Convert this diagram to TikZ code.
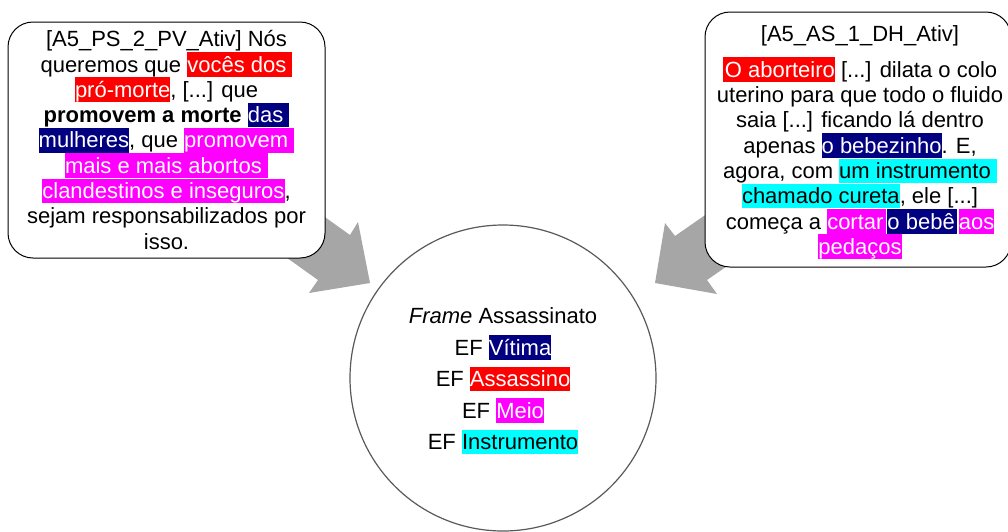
\documentclass[tikz,border=0pt]{standalone}
\usepackage{fontspec}
\setmainfont{Liberation Sans}
\definecolor{hlred}{RGB}{255,0,0}
\definecolor{hlnavy}{RGB}{0,0,128}
\definecolor{hlmag}{RGB}{255,0,255}
\definecolor{hlcyan}{RGB}{0,255,255}
\definecolor{arrowgray}{RGB}{166,166,166}
\definecolor{ringgray}{RGB}{89,89,89}
% highlighted phrase: background colour, text colour, text
\newcommand{\hlbox}[3]{{\setlength{\fboxsep}{0pt}\colorbox{#1}{\rule[-4.7pt]{0pt}{24.6pt}\textcolor{#2}{#3}}}}
\tikzset{
  quotebox/.style={draw=black, line width=1pt, fill=white, rounded corners=25pt,
    align=center, inner sep=0pt, font=\fontsize{22}{25.3}\selectfont},
  quotetext/.style={align=center, inner sep=0pt, font=\fontsize{22}{25.3}\selectfont},
  framecircle/.style={circle, draw=ringgray, line width=1.2pt, fill=white,
    minimum size=306pt, inner sep=0pt},
  frametext/.style={align=center, inner sep=0pt, font=\fontsize{22}{31.5}\selectfont},
  blockarrow/.style={fill=arrowgray, draw=none}
}
\begin{document}
\begin{tikzpicture}[x=1pt, y=-1pt]
\useasboundingbox (0,0) rectangle (1008,531);

% left block arrow
\coordinate (la1) at (228,148);
\coordinate (la2) at (350,235);
\coordinate (la3) at (358,222);
\coordinate (lat) at (370,283);
\coordinate (la4) at (309,293);
\coordinate (la5) at (318,280);
\coordinate (la6) at (196,193);
\fill[blockarrow] (la1) -- (la2) -- (la3) -- (lat) -- (la4) -- (la5) -- (la6) -- cycle;

% right block arrow
\coordinate (ra1) at (798,150.5);
\coordinate (ra2) at (675,236);
\coordinate (ra3) at (665,223);
\coordinate (rat) at (655,283);
\coordinate (ra4) at (717,294);
\coordinate (ra5) at (707,280);
\coordinate (ra6) at (830,194.5);
\fill[blockarrow] (ra1) -- (ra2) -- (ra3) -- (rat) -- (ra4) -- (ra5) -- (ra6) -- cycle;

% frame circle and its frame elements
\node[framecircle] (frame) at (503,378) {};
\node[frametext] (frameels) at ([yshift=-3pt]frame.center) {%
  \textit{Frame} Assassinato\\
  EF \hlbox{hlnavy}{white}{Vítima}\\
  EF \hlbox{hlred}{white}{Assassino}\\
  EF \hlbox{hlmag}{white}{Meio}\\
  EF \hlbox{hlcyan}{black}{Instrumento}};

% left quotation
\node[quotebox, minimum width=317pt, minimum height=236pt] (ps) at (166.5,140) {%
  [A5\_PS\_2\_PV\_Ativ] Nós\\
  queremos que \hlbox{hlred}{white}{vocês dos\ }\\
  \hlbox{hlred}{white}{pró-morte}, [...] que\\
  \textbf{promovem a morte} \hlbox{hlnavy}{white}{das\ }\\
  \hlbox{hlnavy}{white}{mulheres}, que \hlbox{hlmag}{white}{promovem\ }\\
  \hlbox{hlmag}{white}{mais e mais abortos\ }\\
  \hlbox{hlmag}{white}{clandestinos e inseguros},\\
  sejam responsabilizados por\\
  isso.};

% right quotation
\node[quotebox, minimum width=306pt, minimum height=255pt] (as) at (858,139.5) {};
\node[quotetext] (astext) at ([xshift=2pt, yshift=-3pt]as.center) {%
  [A5\_AS\_1\_DH\_Ativ]\\[10pt]
  \hlbox{hlred}{white}{\hspace{2pt}O aborteiro} [...] dilata o colo\\
  uterino para que todo o fluido\\
  saia [...] ficando lá dentro\\
  apenas \hlbox{hlnavy}{white}{o bebezinho}. E,\\
  agora, com \hlbox{hlcyan}{black}{um instrumento\ }\\
  \hlbox{hlcyan}{black}{chamado cureta}, ele [...]\\
  começa a \hlbox{hlmag}{white}{cortar\hspace{3pt}}\hspace{1pt}\hlbox{hlnavy}{white}{o bebê\hspace{2pt}}\hspace{2pt}\hlbox{hlmag}{white}{aos}\\
  \hlbox{hlmag}{white}{pedaços}};
\end{tikzpicture}
\end{document}
